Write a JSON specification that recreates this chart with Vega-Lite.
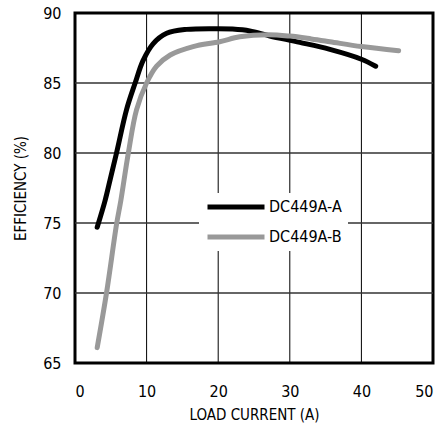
{
  "$schema": "https://vega.github.io/schema/vega-lite/v6.json",
  "autosize": "none",
  "width": 358,
  "height": 350,
  "padding": {"left": 75, "top": 13, "right": 10, "bottom": 79},
  "background": "white",
  "config": {
    "font": "DejaVu Sans Condensed",
    "view": {"stroke": "black", "strokeWidth": 3},
    "axis": {"grid": false, "domain": false, "ticks": false, "labelFontSize": 16, "titleFontSize": 15, "titleFontWeight": "normal", "labelColor": "black", "titleColor": "black", "labelFont": "DejaVu Sans Condensed", "titleFont": "DejaVu Sans Condensed"}
  },
  "layer": [
    {
      "data": {"values": [{"x": 10}, {"x": 20}, {"x": 30}, {"x": 40}]},
      "mark": {"type": "rule", "color": "#000000", "strokeWidth": 1},
      "encoding": {
        "x": {"field": "x", "type": "quantitative", "title": "LOAD CURRENT (A)", "scale": {"domain": [0, 50], "nice": false}}
      }
    },
    {
      "data": {"values": [{"y": 70}, {"y": 75}, {"y": 80}, {"y": 85}]},
      "mark": {"type": "rule", "color": "#333333", "strokeWidth": 1.3},
      "encoding": {
        "y": {"field": "y", "type": "quantitative", "title": "EFFICIENCY (%)", "scale": {"domain": [65, 90], "nice": false, "zero": false}}
      }
    },
    {
      "data": {"values": [
        {"x": 3.1, "y": 74.7, "s": "DC449A-A"},
        {"x": 4.2, "y": 76.6, "s": "DC449A-A"},
        {"x": 5, "y": 78.3, "s": "DC449A-A"},
        {"x": 5.8, "y": 80, "s": "DC449A-A"},
        {"x": 7.2, "y": 83.1, "s": "DC449A-A"},
        {"x": 8.4, "y": 85, "s": "DC449A-A"},
        {"x": 9.5, "y": 86.6, "s": "DC449A-A"},
        {"x": 10.9, "y": 87.8, "s": "DC449A-A"},
        {"x": 12.8, "y": 88.55, "s": "DC449A-A"},
        {"x": 15.6, "y": 88.83, "s": "DC449A-A"},
        {"x": 20, "y": 88.88, "s": "DC449A-A"},
        {"x": 22, "y": 88.85, "s": "DC449A-A"},
        {"x": 24.4, "y": 88.72, "s": "DC449A-A"},
        {"x": 27.2, "y": 88.36, "s": "DC449A-A"},
        {"x": 31.4, "y": 87.9, "s": "DC449A-A"},
        {"x": 35.6, "y": 87.4, "s": "DC449A-A"},
        {"x": 40, "y": 86.7, "s": "DC449A-A"},
        {"x": 42, "y": 86.2, "s": "DC449A-A"},
        {"x": 3.1, "y": 66.1, "s": "DC449A-B"},
        {"x": 4.4, "y": 70, "s": "DC449A-B"},
        {"x": 5.8, "y": 74.9, "s": "DC449A-B"},
        {"x": 6.4, "y": 76.6, "s": "DC449A-B"},
        {"x": 7.45, "y": 80, "s": "DC449A-B"},
        {"x": 8.6, "y": 83.1, "s": "DC449A-B"},
        {"x": 10, "y": 85, "s": "DC449A-B"},
        {"x": 11.4, "y": 86.2, "s": "DC449A-B"},
        {"x": 13.3, "y": 87, "s": "DC449A-B"},
        {"x": 16.5, "y": 87.6, "s": "DC449A-B"},
        {"x": 20.2, "y": 87.95, "s": "DC449A-B"},
        {"x": 23, "y": 88.3, "s": "DC449A-B"},
        {"x": 27, "y": 88.45, "s": "DC449A-B"},
        {"x": 30, "y": 88.35, "s": "DC449A-B"},
        {"x": 33, "y": 88.15, "s": "DC449A-B"},
        {"x": 35.6, "y": 87.95, "s": "DC449A-B"},
        {"x": 40, "y": 87.6, "s": "DC449A-B"},
        {"x": 45.2, "y": 87.3, "s": "DC449A-B"}
      ]},
      "mark": {"type": "line", "interpolate": "catmull-rom", "strokeWidth": 5, "strokeCap": "round"},
      "encoding": {
        "x": {"field": "x", "type": "quantitative", "title": "LOAD CURRENT (A)", "scale": {"domain": [0, 50], "nice": false},
          "axis": {"values": [0, 10, 20, 30, 40, 50], "labelPadding": 20, "titlePadding": 8}},
        "y": {"field": "y", "type": "quantitative", "title": "EFFICIENCY (%)", "scale": {"domain": [65, 90], "nice": false, "zero": false},
          "axis": {"values": [65, 70, 75, 80, 85, 90], "labelPadding": 14, "titlePadding": 14}},
        "color": {"field": "s", "type": "nominal", "scale": {"domain": ["DC449A-A", "DC449A-B"], "range": ["black", "#999999"]},
          "legend": {"title": null, "orient": "none", "legendX": 124, "legendY": 180, "fillColor": "white", "padding": 6, "symbolType": "stroke", "symbolSize": 3249, "symbolStrokeWidth": 5, "clipHeight": 16, "labelFontSize": 16, "labelFont": "DejaVu Sans Condensed", "labelColor": "black", "labelOffset": 2, "rowPadding": 14}}
      }
    }
  ]
}
